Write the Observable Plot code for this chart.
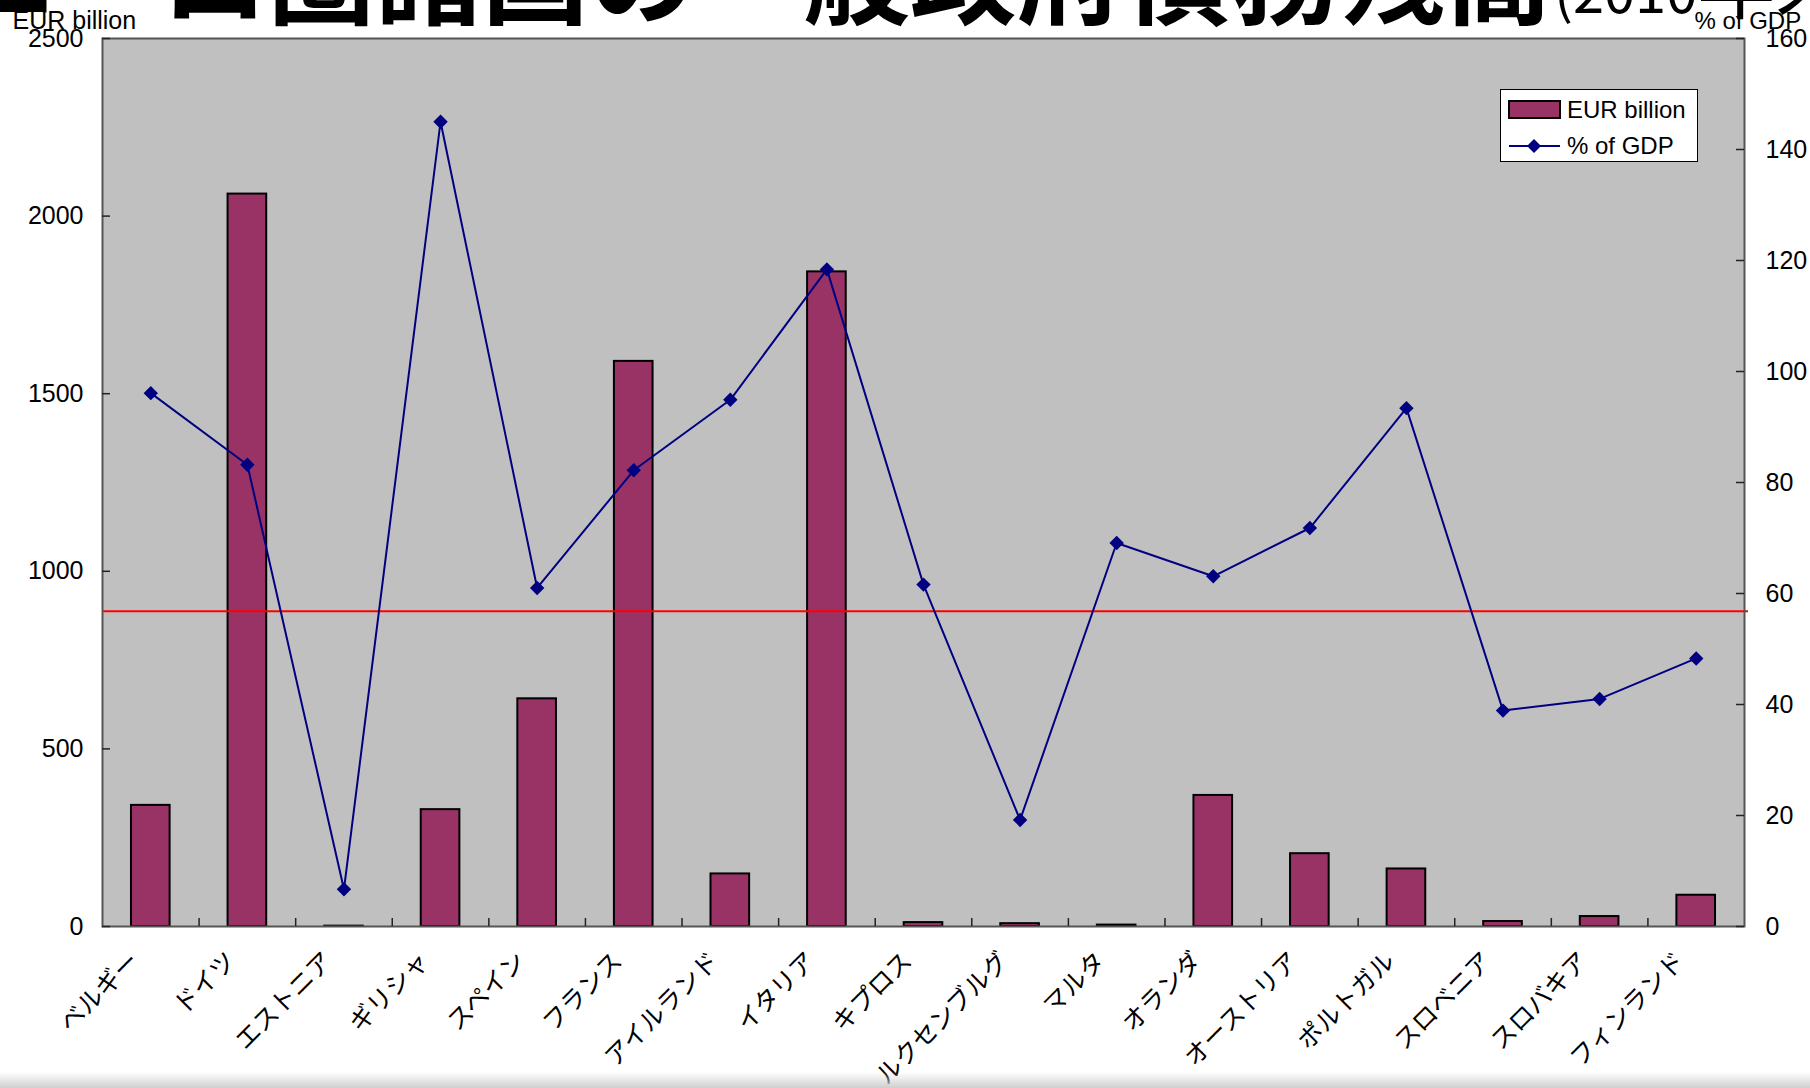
<!DOCTYPE html>
<html>
<head>
<meta charset="utf-8">
<script src="https://cdn.jsdelivr.net/npm/d3@7"></script>
<script src="https://cdn.jsdelivr.net/npm/@observablehq/plot@0.6"></script>
<style>
html, body { margin: 0; padding: 0; background: #fff; overflow: hidden; width: 1810px; height: 1088px; }
#wrap { position: relative; width: 1810px; height: 1088px; overflow: hidden; }
#chart { position: absolute; left: 0; top: 0; }
#chart svg { background: transparent !important; max-width: none !important; }
#title { position: absolute; left: 0; top: 0; }
#legend { position: absolute; left: 1500px; top: 89px; width: 198px; height: 73px; box-sizing: border-box; background: #fff; border: 1px solid #000; }
#shade { position: absolute; left: 0; bottom: 0; width: 1810px; height: 16px; background: linear-gradient(to bottom, rgba(255,255,255,0), #cfcfcf); }
</style>
</head>
<body>
<div id="wrap">
  <div id="chart"></div>
  <svg id="title" width="1810" height="60"></svg>
  <div id="legend"></div>
  <div id="shade"></div>
</div>
<script>
// ---- data ----
const countries = ["ベルギー","ドイツ","エストニア","ギリシャ","スペイン","フランス","アイルランド","イタリア","キプロス","ルクセンブルグ","マルタ","オランダ","オーストリア","ポルトガル","スロベニア","スロバキア","フィンランド"];
const debtEUR = [341, 2062, 1, 329, 641, 1591, 148, 1843, 11, 8, 4, 369, 205, 162, 14, 28, 88];
const debtGDP = [96.1, 83.2, 6.7, 145.0, 61.0, 82.2, 94.9, 118.4, 61.6, 19.2, 69.1, 63.1, 71.8, 93.4, 38.9, 41.0, 48.3];
const leftTicks = [0, 500, 1000, 1500, 2000, 2500];
const rightTicks = [0, 20, 40, 60, 80, 100, 120, 140, 160];
const refLineGDP = [56.8];
const seriesNames = ["EUR billion", "% of GDP"];
const axisTitles = ["EUR billion", "% of GDP"];
const titleMain = "ユーロ圏諸国の一般政府債務残高";
const titleYear = "(2010";
const titleEnd = "年末)";

// ---- chart ----
const W = 1810, H = 1088, mT = 38, mB = 162, mL = 102, mR = 66;
const plotW = W - mL - mR, plotH = H - mT - mB;
const step = plotW / countries.length;
const k = 2500 / 160;
const latin = "'Liberation Sans', Arial, sans-serif";
const cjk = "'Noto Sans CJK JP', 'Noto Sans CJK SC', sans-serif";

const data = countries.map((c, i) => ({country: c, eur: debtEUR[i], gdp: debtGDP[i]}));

const chart = Plot.plot({
  width: W, height: H,
  marginTop: mT, marginBottom: mB, marginLeft: mL, marginRight: mR,
  style: {fontFamily: latin, fontSize: "25px", background: "transparent", color: "#000"},
  x: {domain: countries, paddingInner: 0.6, paddingOuter: 0.3, round: false, axis: null},
  y: {domain: [0, 2500]},
  marks: [
    Plot.frame({fill: "#c0c0c0", stroke: "none"}),
    Plot.barY(data, {x: "country", y: "eur", fill: "#993366", stroke: "#000", strokeWidth: 2}),
    Plot.ruleY(refLineGDP, {y: d => d * k, stroke: "#ff0000", strokeWidth: 2, insetRight: -4}),
    Plot.line(data, {x: "country", y: d => d.gdp * k, stroke: "#000080", strokeWidth: 2}),
    Plot.dot(data, {x: "country", y: d => d.gdp * k, symbol: "diamond2", r: 6.5, fill: "#000080", stroke: "none"}),
    Plot.frame({stroke: "#555", strokeWidth: 2}),
    Plot.ruleY(leftTicks, {insetRight: plotW - 8, stroke: "#222", strokeWidth: 1.5}),
    Plot.ruleY(rightTicks.map(v => v * k), {insetLeft: plotW - 8, stroke: "#222", strokeWidth: 1.5}),
    Plot.ruleX(countries.slice(1), {x: d => d, dx: -step / 2, insetTop: plotH - 8, stroke: "#222", strokeWidth: 1.5}),
    Plot.axisY({anchor: "left", ticks: leftTicks, tickSize: 0, tickPadding: 19, tickFormat: d => String(d), fontSize: 25, label: null}),
    Plot.axisY({anchor: "right", ticks: rightTicks.map(v => v * k), tickSize: 0, tickPadding: 21, tickFormat: d => String(Math.round(d / k)), fontSize: 25, label: null}),
    Plot.text(countries, {x: d => d, y: 0, text: d => d, dx: -10, dy: 36, rotate: -45, textAnchor: "end", lineAnchor: "bottom", fontFamily: cjk, fontSize: 25, fill: "#000"}),
    Plot.text([axisTitles[0]], {text: d => d, frameAnchor: "top-left", dx: -90, dy: -10, textAnchor: "start", lineAnchor: "bottom", fontSize: 25, fill: "#000"}),
    Plot.text([axisTitles[1]], {text: d => d, frameAnchor: "top-right", dx: -50, dy: -10, textAnchor: "start", lineAnchor: "bottom", fontSize: 24, fill: "#000"})
  ]
});
document.getElementById("chart").appendChild(chart);

// ---- title (cut off at the top, as in the slide) ----
const t = d3.select("#title");
t.append("text").attr("x", -53).attr("y", 16)
  .attr("font-family", cjk).attr("font-weight", 700).attr("font-size", 107).attr("fill", "#000")
  .text(titleMain);
const sub = t.append("text").attr("x", 1554).attr("y", 13)
  .attr("font-family", cjk).attr("fill", "#000");
sub.append("tspan").attr("font-size", 56).text(titleYear);
sub.append("tspan").attr("font-size", 78).text(titleEnd);

// ---- legend ----
const lg = d3.select("#legend").append("svg").attr("width", 196).attr("height", 71);
lg.append("rect").attr("x", 8).attr("y", 11).attr("width", 51).attr("height", 17)
  .attr("fill", "#993366").attr("stroke", "#000").attr("stroke-width", 2);
lg.append("text").attr("x", 66).attr("y", 28).attr("font-family", latin).attr("font-size", 24).text(seriesNames[0]);
lg.append("line").attr("x1", 8).attr("x2", 59).attr("y1", 56).attr("y2", 56).attr("stroke", "#000080").attr("stroke-width", 2);
lg.append("path").attr("d", "M33,49L40,56L33,63L26,56Z").attr("fill", "#000080");
lg.append("text").attr("x", 66).attr("y", 64).attr("font-family", latin).attr("font-size", 24).text(seriesNames[1]);
</script>
</body>
</html>
